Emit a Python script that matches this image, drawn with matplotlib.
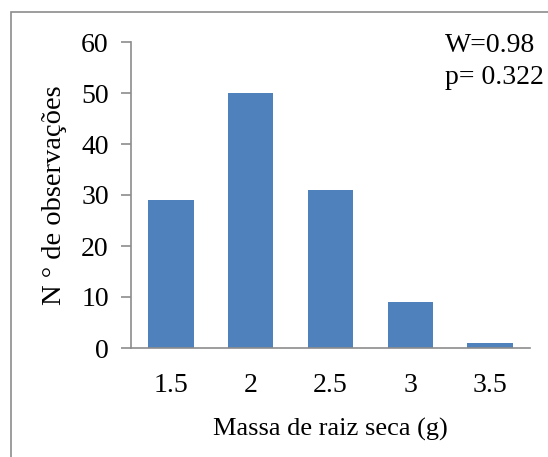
import matplotlib.pyplot as plt
from matplotlib.patches import Rectangle

# dados do histograma
classes = ["1.5", "2", "2.5", "3", "3.5"]
frequencias = [29, 50, 31, 9, 1]
yticks = [0, 10, 20, 30, 40, 50, 60]

plt.rcParams['font.family'] = ['Liberation Serif', 'DejaVu Serif']

fig = plt.figure(figsize=(5.48, 4.57), dpi=100)
W, H = 548, 457
ax = fig.add_axes([131 / W, 1 - 348 / H, (530 - 131) / W, (348 - 42) / H])

x = range(len(classes))
ax.bar(x, frequencias, width=0.57, color="#4F81BD", zorder=2)

ax.set_xlim(-0.5, len(classes) - 0.5)
ax.set_ylim(0, 60)
ax.set_yticks(yticks)
ax.set_xticks(list(x))
ax.set_xticklabels(classes)

for s in ["top", "right"]:
    ax.spines[s].set_visible(False)
for s in ["left", "bottom"]:
    ax.spines[s].set_color("#8c8c8c")
    ax.spines[s].set_linewidth(1.2)

ax.tick_params(axis="y", length=7, color="#8c8c8c", width=1.2, labelsize=20, pad=9)
ax.tick_params(axis="x", length=0, labelsize=20, pad=18)

ax.set_ylabel("N ° de observações", fontsize=20.5, labelpad=10)
ax.set_xlabel("Massa de raiz seca (g)", fontsize=19, labelpad=14)

fig.text(445 / W, 1 - 45 / H, "W=0.98", fontsize=20, va="center", ha="left")
fig.text(445 / W, 1 - 78 / H, "p= 0.322", fontsize=20, va="center", ha="left")

# moldura do gráfico
fig.patches.append(Rectangle((11 / W, -0.1), 1.2, 1 - 12 / H + 0.1,
                             transform=fig.transFigure, fill=False,
                             edgecolor="#8c8c8c", linewidth=1.2))

fig.savefig("out.png", dpi=100)
